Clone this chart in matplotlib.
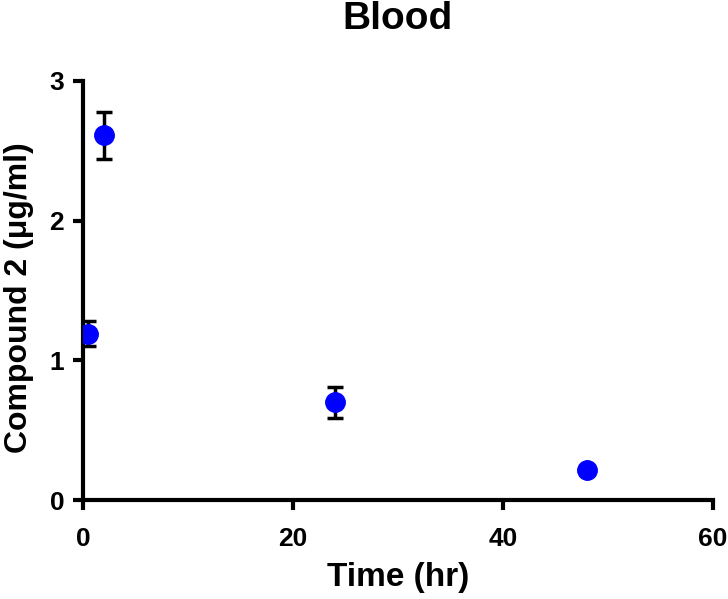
import matplotlib
matplotlib.use("Agg")
import matplotlib.pyplot as plt
import numpy as np

# Compound 2 concentration in blood over time
time_hr = [0.5, 2, 24, 48]
conc = [1.19, 2.61, 0.70, 0.215]
conc_err = [0.09, 0.17, 0.11, 0.0]

plt.rcParams['font.family'] = ['Liberation Sans', 'DejaVu Sans']
plt.rcParams['font.weight'] = 'bold'

fig = plt.figure(figsize=(7.28, 5.99), dpi=100)
ax = fig.add_axes([0.114, 0.165, 0.865, 0.70])

ax.errorbar(time_hr, conc, yerr=conc_err, fmt='o', color='#0000ff', markersize=14,
            ecolor='black', elinewidth=2.5, capsize=6, capthick=2.5, zorder=3)

ax.set_xlim(0, 60)
ax.set_ylim(0, 3)
ax.set_xticks([0, 20, 40, 60])
ax.set_yticks([0, 1, 2, 3])

for side in ['top', 'right']:
    ax.spines[side].set_visible(False)
for side in ['left', 'bottom']:
    ax.spines[side].set_linewidth(3)
ax.tick_params(width=3, length=7.5, labelsize=19)
ax.tick_params(axis='x', pad=12)
ax.tick_params(axis='y', pad=6)
for lab in ax.get_xticklabels() + ax.get_yticklabels():
    lab.set_fontweight('bold')

ax.set_xlabel('Time (hr)', fontsize=24, fontweight='bold', labelpad=8)
ax.set_ylabel('Compound 2 (\u03bcg/ml)', fontsize=23, fontweight='bold')
ax.yaxis.set_label_coords(-0.078, 0.483)
ax.set_title('Blood', fontsize=28, fontweight='bold', pad=37)

fig.savefig('out.png', dpi=100)
